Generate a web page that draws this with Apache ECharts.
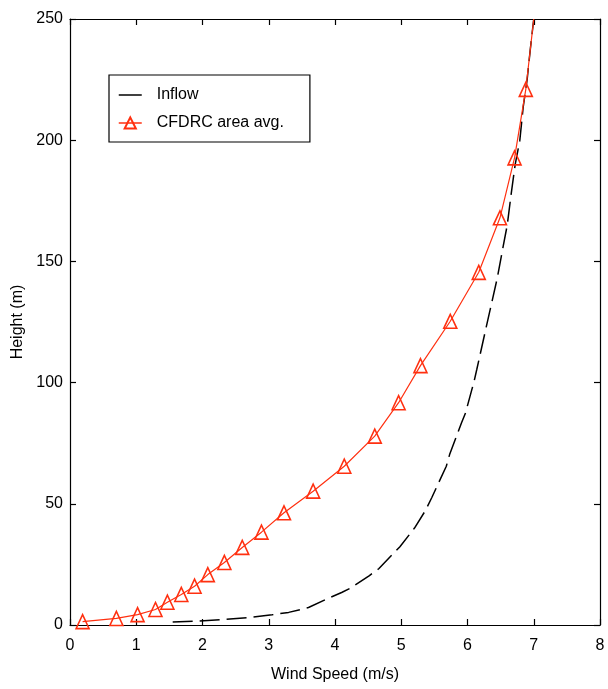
<!DOCTYPE html>
<html><head><meta charset="utf-8">
<script src="https://cdn.jsdelivr.net/npm/echarts@6/dist/echarts.min.js"></script>
<style>html,body{margin:0;padding:0;background:#fff}#c{width:608px;height:689px}</style>
</head><body><div id="c"></div>
<script>
var xTicks = [0, 8, 1];     // min, max, interval (m/s)
var yTicks = [0, 250, 50];  // min, max, interval (m)

var inflowSpeed  = [1.55, 1.9, 2.3, 2.75, 3.05, 3.3, 3.6, 3.92, 4.1, 4.22, 4.52, 4.66, 4.98, 5.2, 5.36, 5.46, 5.68, 5.73, 5.91, 5.97, 6.1, 6.14, 6.28, 6.45, 6.53, 6.6, 6.66, 6.72, 6.79, 6.84, 6.9, 6.95, 7.0];
var inflowHeight = [1.2, 1.6, 2.2, 3.2, 4.2, 5.2, 7.2, 11.3, 13.4, 15, 20.4, 23.2, 32.3, 40, 47, 52.5, 65.5, 70.3, 83.4, 87.5, 100.6, 105.4, 122.6, 143.2, 155, 165, 178, 190, 200, 213.5, 225, 238, 250];

var cfdSpeed  = [0.19, 0.70, 1.02, 1.29, 1.47, 1.68, 1.88, 2.08, 2.33, 2.6, 2.89, 3.23, 3.67, 4.14, 4.6, 4.96, 5.29, 5.74, 6.17, 6.49, 6.71, 6.88, 7.0];
var cfdHeight = [1.4, 2.7, 4.3, 6.4, 9.4, 12.6, 16, 20.8, 25.8, 32, 38.3, 46.3, 55.2, 65.5, 77.9, 91.7, 107, 125.3, 145.5, 168, 192.7, 221, 250];

var seriesNames = ['Inflow', 'CFDRC area avg.'];
var xName = 'Wind Speed (m/s)';
var yName = 'Height (m)';

var FONT = "'Liberation Sans', Arial, sans-serif";
var FS = 16;
var RED = '#ff3010';

function pairs(a, b) { return a.map(function (v, i) { return [v, b[i]]; }); }
var cfdData = pairs(cfdSpeed, cfdHeight).map(function (p, i, arr) {
  return i === arr.length - 1 ? { value: p, symbol: 'none' } : p;
});

var axisCommon = {
  axisLine: { show: true, onZero: false, lineStyle: { color: '#000', width: 1.2 } },
  axisTick: { show: true, inside: true, length: 6, lineStyle: { color: '#000', width: 1.2 } },
  splitLine: { show: false }
};

var chart = echarts.init(document.getElementById('c'), null, { renderer: 'canvas' });
chart.setOption({
  animation: false,
  backgroundColor: '#fff',
  textStyle: { fontFamily: FONT },
  grid: { left: 70, right: 8, top: 19, bottom: 64, containLabel: false, outerBoundsMode: 'none' },
  xAxis: [
    Object.assign({
      type: 'value', position: 'bottom', min: xTicks[0], max: xTicks[1], interval: xTicks[2],
      name: xName, nameLocation: 'middle', nameGap: 42,
      nameTextStyle: { fontFamily: FONT, fontSize: FS, color: '#000' },
      axisLabel: { fontFamily: FONT, fontSize: FS, color: '#000', margin: 13 }
    }, axisCommon),
    Object.assign({
      type: 'value', position: 'top', min: xTicks[0], max: xTicks[1], interval: xTicks[2],
      axisLabel: { show: false }
    }, axisCommon)
  ],
  yAxis: [
    Object.assign({
      type: 'value', position: 'left', min: yTicks[0], max: yTicks[1], interval: yTicks[2],
      name: yName, nameLocation: 'middle', nameGap: 40, nameRotate: 90,
      nameTextStyle: { fontFamily: FONT, fontSize: FS, color: '#000' },
      axisLabel: { fontFamily: FONT, fontSize: FS, color: '#000', margin: 7 }
    }, axisCommon),
    Object.assign({
      type: 'value', position: 'right', min: yTicks[0], max: yTicks[1], interval: yTicks[2],
      axisLabel: { show: false }
    }, axisCommon)
  ],
  legend: {
    orient: 'vertical', left: 109, top: 75,
    padding: [12, 26, 11, 9], itemGap: 12, itemWidth: 23, itemHeight: 14,
    backgroundColor: '#fff', borderColor: '#000', borderWidth: 1.2, borderRadius: 0,
    textStyle: { fontFamily: FONT, fontSize: FS, color: '#000', padding: [0, 0, 0, 10] },
    data: [
      { name: seriesNames[0], itemStyle: { opacity: 0 }, lineStyle: { type: 'solid', color: '#000', width: 1.5, opacity: 1 } },
      { name: seriesNames[1], lineStyle: { type: 'solid', color: RED, width: 1.5 } }
    ]
  },
  series: [
    {
      name: seriesNames[0], type: 'line', xAxisIndex: 0, yAxisIndex: 0,
      data: pairs(inflowSpeed, inflowHeight), showSymbol: false, symbol: 'none', smooth: false,
      lineStyle: { color: '#000', width: 1.5, type: [20, 7] },
      itemStyle: { color: '#000' }, z: 2
    },
    {
      name: seriesNames[1], type: 'line', xAxisIndex: 0, yAxisIndex: 0,
      data: cfdData, symbol: 'triangle', symbolSize: [13, 14], showSymbol: true, smooth: false,
      lineStyle: { color: RED, width: 1.2 },
      itemStyle: { color: 'rgba(255,255,255,0)', borderColor: RED, borderWidth: 1.6 }, z: 3
    }
  ]
});
</script></body></html>
